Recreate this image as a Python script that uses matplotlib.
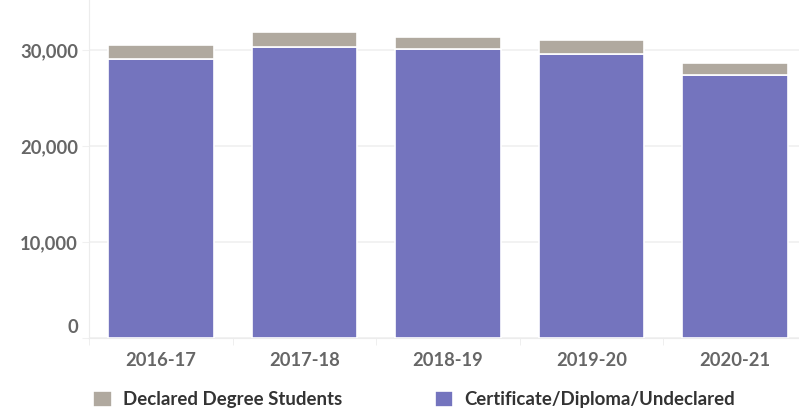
import matplotlib
matplotlib.use("Agg")
import matplotlib.pyplot as plt
import matplotlib.transforms as mtransforms
import numpy as np

years = ["2016-17", "2017-18", "2018-19", "2019-20", "2020-21"]
certificate = [29100, 30350, 30080, 29600, 27340]
declared = [1460, 1500, 1280, 1420, 1290]

purple = "#7474BE"
grey = "#B0A99F"
label_col = "#666666"

plt.rcParams['font.family'] = ['Lato', 'DejaVu Sans']

fig = plt.figure(figsize=(7.99, 4.08), dpi=100)
ax = fig.add_axes([89 / 799, 70 / 408, 718 / 799, 338 / 408])

x = np.arange(len(years))
w = 0.735
ax.bar(x, certificate, width=w, color=purple, edgecolor="white", linewidth=1.2,
       label="Certificate/Diploma/Undeclared", zorder=3)
ax.bar(x, declared, width=w, bottom=certificate, color=grey, edgecolor="white",
       linewidth=1.2, label="Declared Degree Students", zorder=3)

ax.set_xlim(-0.5, 4.5)
ax.set_ylim(0, 35200)
ax.set_yticks([0, 10000, 20000, 30000])
ax.set_yticklabels(["0", "10,000", "20,000", "30,000"])
ax.yaxis.grid(True, color="#f0f0f0", linewidth=1.2, zorder=0)

for s in ["top", "right"]:
    ax.spines[s].set_visible(False)
ax.spines["left"].set_color("#ececec")
ax.spines["bottom"].set_color("#ececec")

ax.tick_params(axis="y", length=5.3, color="#f0f0f0", labelsize=13.2, labelcolor=label_col, pad=2.5)
ax.set_xticks(x)
ax.set_xticklabels(years)
ax.tick_params(axis="x", length=0, labelsize=13.2, labelcolor=label_col, pad=10)
ax.set_xticks(np.arange(-0.5, 4.6, 1), minor=True)
ax.tick_params(axis="x", which="minor", length=5, color="#ececec")
for t in ax.get_xticklabels() + ax.get_yticklabels():
    t.set_fontweight("bold")

# zero label sits above the baseline
zero = ax.get_yticklabels()[0]
zero.set_transform(zero.get_transform() + mtransforms.ScaledTranslation(0, 12 / 100, fig.dpi_scale_trans))

h, l = ax.get_legend_handles_labels()
leg = fig.legend(h[::-1], l[::-1], loc="lower left", bbox_to_anchor=(0.096, -0.042), ncol=2,
                 frameon=False, fontsize=13.4, handlelength=1.0, handleheight=1.0,
                 handletextpad=0.6, columnspacing=4.95)
for t in leg.get_texts():
    t.set_fontweight("bold")
    t.set_color("#333333")

fig.savefig("out.png", dpi=100)
